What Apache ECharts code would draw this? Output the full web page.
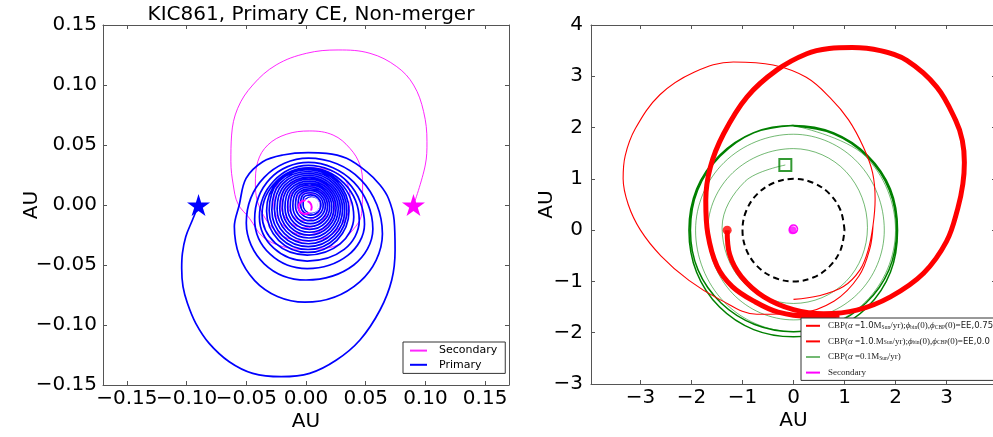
<!DOCTYPE html>
<html><head><meta charset="utf-8">
<script src="https://cdn.jsdelivr.net/npm/echarts@6/dist/echarts.min.js"></script>
<style>html,body{margin:0;padding:0;background:#fff}#c{width:993px;height:437px}</style>
</head><body><div id="c"></div>
<script>
// ---- Left panel: KIC861 common-envelope inspiral (AU) ----
const leftTicks = [-0.15, -0.10, -0.05, 0.00, 0.05, 0.10, 0.15];
const leftTickLabels = ['\u22120.15', '\u22120.10', '\u22120.05', '0.00', '0.05', '0.10', '0.15'];

const primaryStart = [[-0.090, 0.000]];
const secondaryStart = [[0.090, 0.000]];

const primaryOrbit = [
  // outer swing from the starting point
  [-0.090,0.000],[-0.0951,-0.0125],[-0.1007,-0.0264],[-0.1035,-0.0403],[-0.1041,-0.0528],[-0.1030,-0.0681],
  [-0.0993,-0.0819],[-0.0923,-0.0986],[-0.0811,-0.1153],[-0.0643,-0.1306],[-0.0446,-0.1403],[-0.0208,-0.1431],
  [0.0031,-0.1403],[0.0255,-0.1292],[0.0452,-0.1125],[0.0620,-0.0875],[0.0718,-0.0625],[0.0746,-0.0375],
  [0.0738,-0.0125],[0.0690,0.0056],[0.0620,0.0167],[0.0508,0.0278],[0.0340,0.0389],[0.0171,0.0431],[0.0017,0.0436],
  [-0.0194,0.0417],[-0.0362,0.0361],[-0.0502,0.0222],[-0.0559,0.0000],
  // shrinking loops
  [-0.060,-0.018],[-0.043,-0.063],[-0.001,-0.081],[0.045,-0.064],[0.064,-0.024],[0.046,0.021],[0.002,0.039],[-0.035,0.023],
  [-0.050,-0.015],[-0.035,-0.049],[0.000,-0.0625],[0.040,-0.050],[0.056,-0.020],[0.040,0.019],[0.002,0.0355],[-0.030,0.022],
  [-0.043,-0.012],[-0.030,-0.041],[0.001,-0.053],[0.035,-0.042],[0.049,-0.016],[0.035,0.019],[0.002,0.033],[-0.027,0.020],
  [-0.039,-0.010],[-0.027,-0.036],[0.001,-0.0467],[0.032,-0.037],[0.0446,-0.013],[0.032,0.018],[0.002,0.031],[-0.025,0.0196],
  [-0.0368,-0.008],[-0.0257,-0.0318],[0.001,-0.0417],[0.0286,-0.0324],[0.040,-0.010],[0.029,0.0183],[0.002,0.030],[-0.024,0.019],
  // dense core
  [-0.0330,-0.0050],[-0.0229,-0.0294],[0.0015,-0.0395],[0.0259,-0.0294],[0.0360,-0.0050],[0.0259,0.0194],[0.0015,0.0295],[-0.0229,0.0194],
  [-0.0308,-0.0046],[-0.0213,-0.0276],[0.0017,-0.0371],[0.0247,-0.0276],[0.0342,-0.0046],[0.0247,0.0184],[0.0017,0.0279],[-0.0213,0.0184],
  [-0.0286,-0.0042],[-0.0197,-0.0258],[0.0019,-0.0347],[0.0235,-0.0258],[0.0324,-0.0042],[0.0235,0.0174],[0.0019,0.0263],[-0.0197,0.0174],
  [-0.0264,-0.0038],[-0.0180,-0.0239],[0.0021,-0.0323],[0.0222,-0.0239],[0.0306,-0.0038],[0.0222,0.0163],[0.0021,0.0247],[-0.0180,0.0163],
  [-0.0242,-0.0034],[-0.0164,-0.0221],[0.0023,-0.0299],[0.0210,-0.0221],[0.0288,-0.0034],[0.0210,0.0153],[0.0023,0.0231],[-0.0164,0.0153],
  [-0.0220,-0.0030],[-0.0148,-0.0203],[0.0025,-0.0275],[0.0198,-0.0203],[0.0270,-0.0030],[0.0198,0.0143],[0.0025,0.0215],[-0.0148,0.0143],
  [-0.0198,-0.0026],[-0.0132,-0.0185],[0.0027,-0.0251],[0.0186,-0.0185],[0.0252,-0.0026],[0.0186,0.0133],[0.0027,0.0199],[-0.0132,0.0133],
  [-0.0176,-0.0022],[-0.0116,-0.0167],[0.0029,-0.0227],[0.0174,-0.0167],[0.0234,-0.0022],[0.0174,0.0123],[0.0029,0.0183],[-0.0116,0.0123],
  [-0.0154,-0.0018],[-0.0100,-0.0149],[0.0031,-0.0203],[0.0162,-0.0149],[0.0216,-0.0018],[0.0162,0.0113],[0.0031,0.0167],[-0.0100,0.0113],
  [-0.0132,-0.0014],[-0.0084,-0.0131],[0.0033,-0.0179],[0.0150,-0.0131],[0.0198,-0.0014],[0.0150,0.0103],[0.0033,0.0151],[-0.0084,0.0103],
  [-0.0110,-0.0010],[-0.0068,-0.0113],[0.0035,-0.0155],[0.0138,-0.0113],[0.0180,-0.0010],[0.0138,0.0093],[0.0035,0.0135],[-0.0068,0.0093],
  [-0.0088,-0.0006],[-0.0051,-0.0094],[0.0037,-0.0131],[0.0125,-0.0094],[0.0162,-0.0006],[0.0125,0.0082],[0.0037,0.0119],[-0.0051,0.0082],
  [-0.0066,-0.0003],[-0.0035,-0.0077],[0.0039,-0.0108],[0.0113,-0.0077],[0.0144,-0.0003],[0.0113,0.0071],[0.0039,0.0102],[-0.0035,0.0071],
  [-0.0045,0.0000],[-0.0020,-0.0060],[0.0040,-0.0085],[0.0100,-0.0060],[0.0125,0.0000],[0.0100,0.0060],[0.0040,0.0085],[-0.0020,0.0060],
  [-0.0024,0.0000],[-0.0005,-0.0046],[0.0041,-0.0065],[0.0087,-0.0046],[0.0106,0.0000],[0.0087,0.0046],[0.0041,0.0065],[-0.0005,0.0046]
];

const secondaryOrbit = [
  [0.0901,0.0000],[0.0999,0.0333],[0.1013,0.0528],[0.0985,0.0778],[0.0901,0.1000],[0.0760,0.1153],[0.0536,0.1264],
  [0.0269,0.1292],[0.0003,0.1264],[-0.0250,0.1167],[-0.0446,0.1000],[-0.0572,0.0806],[-0.0623,0.0583],[-0.0629,0.0361],
  [-0.0609,0.0167],[-0.0570,0.0010],[-0.0474,-0.0110],[-0.0362,-0.0264],[-0.0194,-0.0347],[-0.0010,-0.0370],
  [0.0230,-0.0347],[0.0368,-0.0236],[0.0466,-0.0070],[0.0474,0.0167],[0.0452,0.0333],[0.0368,0.0472],[0.0227,0.0583],
  [0.0031,0.0617],[-0.0166,0.0589],[-0.0320,0.0500],[-0.0404,0.0361],[-0.0424,0.0167],
  [-0.037,-0.006],[-0.021,-0.025],[0.002,-0.030],[0.026,-0.021],[0.037,0.004],[0.030,0.024],[0.002,0.031],[-0.021,0.021],
  [-0.027,0.000],[-0.018,-0.018],[0.000,-0.025],[0.018,-0.017],[0.024,0.000],[0.017,0.016],[0.000,0.022],[-0.016,0.015],
  [-0.021,0.000],[-0.014,-0.014],[0.000,-0.019],[0.014,-0.013],[0.018,0.000],[0.012,0.012],[0.000,0.016],[-0.011,0.011],
  [-0.015,0.000],[-0.010,-0.010],[0.000,-0.013],[0.009,-0.009],[0.012,0.000],[0.008,0.008],[0.000,0.010],[-0.007,0.007],[-0.009,0.000]
];

// final tight orbits at the centre
const secondaryCore = [[-0.0064,-0.0019],[-0.0048,-0.0059],[-0.0008,-0.0075],[0.0032,-0.0059],[0.0048,-0.0019],[0.0032,0.0021],[-0.0008,0.0037],[-0.0048,0.0021],[-0.0064,-0.0019]];
const primaryCore = [[-0.0008,0.0000],[0.0008,-0.0040],[0.0048,-0.0056],[0.0088,-0.0040],[0.0104,0.0000],[0.0088,0.0040],[0.0048,0.0056],[0.0008,0.0040],[-0.0008,0.0000]];

// ---- Right panel: circumbinary planet orbits (AU) ----
const rightXTicks = [-3, -2, -1, 0, 1, 2, 3];
const rightXTickLabels = ['\u22123', '\u22122', '\u22121', '0', '1', '2', '3'];
const rightYTicks = [-3, -2, -1, 0, 1, 2, 3, 4];
const rightYTickLabels = ['\u22123', '\u22122', '\u22121', '0', '1', '2', '3', '4'];

const unitCircle = [[1,0],[0.924,0.383],[0.707,0.707],[0.383,0.924],[0,1],[-0.383,0.924],[-0.707,0.707],[-0.924,0.383],[-1,0],[-0.924,-0.383],[-0.707,-0.707],[-0.383,-0.924],[0,-1],[0.383,-0.924],[0.707,-0.707],[0.924,-0.383],[1,0]];

const cbpStart = [[-1.30, 0.00]];
const cbpEE075 = [
  [-1.30,0.00],[-1.25,-0.48],[-1.02,-0.91],[-0.58,-1.30],[0.00,-1.55],[0.59,-1.63],[1.24,-1.56],[1.90,-1.30],
  [2.55,-0.84],[3.00,-0.22],[3.22,0.42],[3.32,0.90],[3.35,1.32],[3.31,1.75],[3.18,2.14],[2.81,2.79],[2.22,3.31],
  [1.70,3.50],[1.15,3.56],[0.70,3.54],[0.26,3.44],[-0.33,3.12],[-0.91,2.60],[-1.37,1.88],[-1.63,1.23],[-1.72,0.58],
  [-1.68,-0.07],[-1.50,-0.70],[-1.20,-1.10],[-0.75,-1.40],[-0.30,-1.60],[0.30,-1.68],[0.90,-1.66]
];
const cbpEE00 = [
  [0.00,-1.35],[0.50,-1.28],[0.98,-1.10],[1.30,-0.78],[1.46,-0.40],[1.56,0.10],[1.60,0.60],[1.55,1.12],[1.37,1.62],
  [1.08,2.15],[0.72,2.58],[0.25,2.98],[-0.40,3.22],[-1.18,3.28],[-1.95,3.08],[-2.62,2.64],[-3.10,1.98],[-3.30,1.45],
  [-3.34,1.00],[-3.24,0.50],[-3.00,0.00],[-2.60,-0.50],[-2.05,-0.98],[-1.45,-1.35],[-0.72,-1.64],[0.10,-1.62],
  [0.80,-1.38],[1.28,-0.90],[1.50,-0.35],[1.56,0.10]
];
const cbpSlowStart = [[-0.16, 1.27]];
const cbpSlow = [
  [-0.16,1.27],[-0.95,0.95],[-1.40,0.05],[-1.00,-1.00],[0.00,-1.43],[1.03,-1.00],[1.45,0.05],[1.03,1.14],[0.00,1.59],
  [-1.19,1.12],[-1.68,0.00],[-1.19,-1.24],[0.00,-1.75],[1.26,-1.24],[1.78,0.00],[1.26,1.32],[0.00,1.87],
  [-1.36,1.32],[-1.92,0.00],[-1.36,-1.40],[0.00,-1.98],[1.41,-1.40],[2.00,0.00],[1.41,1.44],[0.00,2.04]
];
const cbpSlowLate = [
  [0.00,2.04],[-0.78,1.90],[-1.45,1.46],[-1.90,0.80],[-2.05,0.00],[-1.90,-0.82],[-1.45,-1.50],[-0.78,-1.94],
  [0.00,-2.08],[0.78,-1.94],[1.45,-1.50],[1.90,-0.82],[2.04,0.00],[1.90,0.80],[1.45,1.46],[0.78,1.90],[0.00,2.04],
  [-0.78,1.90],[-1.44,1.44],[-1.88,0.78],[-2.02,0.00],[-1.87,-0.78],[-1.42,-1.42],[-0.76,-1.84],[0.00,-1.98],
  [0.76,-1.84],[1.42,-1.42],[1.87,-0.78],[2.02,0.00],[1.88,0.78],[1.44,1.44],[0.78,1.88],[0.00,2.03]
];
const binaryRing = [[0.08,0.02],[0.057,0.077],[0,0.10],[-0.057,0.077],[-0.08,0.02],[-0.057,-0.037],[0,-0.06],[0.057,-0.037],[0.08,0.02]];
const binaryDot = [[-0.02, 0.00]];

const starPath = 'path://M50,0 L61,35 L98,35 L68,57 L79,91 L50,70 L21,91 L32,57 L2,35 L39,35 Z';
const frame = '#555';
const tickFont = { fontFamily: 'DejaVu Sans', fontSize: 20, color: '#000' };
const SMOOTH = 0.37;

function labelFor(ticks, labels) {
  return v => labels[ticks.findIndex(t => Math.abs(t - v) < 1e-9)];
}

function axis(grid, pos, min, max, ticks, labels, margin) {
  const a = {
    type: 'value', gridIndex: grid, position: pos, min: min, max: max,
    axisLine: { show: true, onZero: false, lineStyle: { color: frame, width: 1 } },
    axisTick: { show: true, inside: true, length: 4, customValues: ticks, lineStyle: { color: frame } },
    splitLine: { show: false },
    axisLabel: { show: false }
  };
  if (labels) {
    a.axisLabel = Object.assign({ show: true, margin: margin || 4, customValues: ticks, hideOverlap: false,
      showMinLabel: true, showMaxLabel: true, formatter: labelFor(ticks, labels) }, tickFont);
  }
  return a;
}

// bottom labels of the left panel sit close together; they are shared between two axes
const leftLabelsA = leftTicks.filter((t, i) => i % 2 === 0);
const leftLabelsB = leftTicks.filter((t, i) => i % 2 === 1);
function labelOnlyAxis(ticks) {
  return {
    type: 'value', gridIndex: 0, position: 'bottom', offset: 0, min: -0.17, max: 0.17,
    axisLine: { show: false }, axisTick: { show: false }, splitLine: { show: false },
    axisLabel: Object.assign({ show: true, margin: 4, customValues: ticks, hideOverlap: false,
      showMinLabel: true, showMaxLabel: true, formatter: labelFor(leftTicks, leftTickLabels) }, tickFont)
  };
}

const names = {
  fast075: 'cbp-fast-075', fast00: 'cbp-fast-00', slow: 'cbp-slow', sec2: 'Secondary (binary)'
};
const richLegend = {};
richLegend[names.fast075] = '{m|CBP(}{g|\u03b1}{m| =}{s|1.0}{m|M}{b|Sun}{m|/yr);}{g|\u03d5}{b|bin}{m|(0),}{g|\u03d5}{b|CBP}{m|(0)=}{s|EE,0.75}';
richLegend[names.fast00] = '{m|CBP(}{g|\u03b1}{m| =}{s|1.0}{m|.M}{b|Sun}{m|/yr);}{g|\u03d5}{b|bin}{m|(0),}{g|\u03d5}{b|CBP}{m|(0)=}{s|EE,0.0}';
richLegend[names.slow] = '{m|CBP(}{g|\u03b1}{m| =0.1M}{b|Sun}{m|/yr)}';
richLegend[names.sec2] = '{m|Secondary}';

const nameCommon = { nameLocation: 'middle', nameMoveOverlap: false, nameTextStyle: tickFont, name: 'AU' };

const option = {
  animation: false,
  backgroundColor: '#fff',
  title: {
    text: 'KIC861, Primary CE, Non-merger', left: 306, top: 0, textAlign: 'center',
    textStyle: { fontFamily: 'DejaVu Sans', fontSize: 20, fontWeight: 'normal', color: '#000' }
  },
  grid: [
    { left: 103, top: 25, width: 406, height: 360, outerBoundsMode: 'none' },
    { left: 591, top: 25, width: 405, height: 359, outerBoundsMode: 'none' }
  ],
  xAxis: [
    Object.assign(axis(0, 'bottom', -0.17, 0.17, leftTicks, null), nameCommon, { nameGap: 27 }),
    axis(0, 'top', -0.17, 0.17, leftTicks, null),
    Object.assign(axis(1, 'bottom', -3.97, 3.97, rightXTicks, rightXTickLabels), nameCommon, { nameGap: 27 }),
    axis(1, 'top', -3.97, 3.97, rightXTicks, null),
    labelOnlyAxis(leftLabelsA),
    labelOnlyAxis(leftLabelsB)
  ],
  yAxis: [
    Object.assign(axis(0, 'left', -0.15, 0.15, leftTicks, leftTickLabels, 6), nameCommon, { nameGap: 61 }),
    axis(0, 'right', -0.15, 0.15, leftTicks, null),
    Object.assign(axis(1, 'left', -3, 4, rightYTicks, rightYTickLabels, 8), nameCommon, { nameGap: 34 }),
    axis(1, 'right', -3, 4, rightYTicks, null)
  ],
  legend: [
    {
      data: ['Secondary', 'Primary'], orient: 'vertical', left: 403, top: 342,
      itemWidth: 17, itemHeight: 14, itemGap: 3, padding: [3, 8, 3, 6],
      borderColor: '#333', borderWidth: 1, borderRadius: 0, backgroundColor: '#fff',
      itemStyle: { opacity: 0 },
      textStyle: { fontFamily: 'DejaVu Sans', fontSize: 11, color: '#000', padding: [0, 0, 0, 7] }
    },
    {
      data: [names.fast075, names.fast00, names.slow, names.sec2], orient: 'vertical', left: 801, top: 318,
      itemWidth: 14, itemHeight: 12, itemGap: 6, padding: [3, 8, 3, 4],
      borderColor: '#333', borderWidth: 1, borderRadius: 0, backgroundColor: '#fff',
      itemStyle: { opacity: 0 },
      formatter: n => richLegend[n],
      textStyle: {
        padding: [0, 0, 0, 3],
        rich: {
          m: { fontFamily: 'Liberation Serif', fontSize: 9, color: '#222' },
          g: { fontFamily: 'Liberation Serif', fontStyle: 'italic', fontSize: 9, color: '#222' },
          s: { fontFamily: 'DejaVu Sans', fontSize: 8.5, color: '#222' },
          b: { fontFamily: 'Liberation Serif', fontSize: 5.5, color: '#222', verticalAlign: 'bottom' }
        }
      }
    }
  ],
  series: [
    { name: 'Secondary', type: 'line', xAxisIndex: 0, yAxisIndex: 0, data: secondaryOrbit, smooth: SMOOTH,
      symbol: 'none', lineStyle: { color: '#ff00ff', width: 1, opacity: 0.85 }, itemStyle: { color: '#ff00ff' } },
    { name: 'Primary', type: 'line', xAxisIndex: 0, yAxisIndex: 0, data: primaryOrbit, smooth: SMOOTH,
      symbol: 'none', lineStyle: { color: '#0000ff', width: 1.7 }, itemStyle: { color: '#0000ff' } },
    { type: 'line', xAxisIndex: 0, yAxisIndex: 0, data: secondaryCore, smooth: SMOOTH, symbol: 'none',
      lineStyle: { color: '#ff00ff', width: 2 } },
    { type: 'line', xAxisIndex: 0, yAxisIndex: 0, data: primaryCore, smooth: SMOOTH, symbol: 'none',
      lineStyle: { color: '#ffffff', width: 2 } },
    { type: 'scatter', xAxisIndex: 0, yAxisIndex: 0, data: primaryStart, symbol: starPath, symbolSize: [23, 22],
      itemStyle: { color: '#0000ff', opacity: 1 }, z: 5 },
    { type: 'scatter', xAxisIndex: 0, yAxisIndex: 0, data: secondaryStart, symbol: starPath, symbolSize: [23, 22],
      itemStyle: { color: '#ff00ff', opacity: 1 }, z: 5 },

    { type: 'line', xAxisIndex: 2, yAxisIndex: 2, data: unitCircle, smooth: SMOOTH, symbol: 'none',
      lineStyle: { color: '#000', width: 2, type: [6, 4] } },
    { name: names.slow, type: 'line', xAxisIndex: 2, yAxisIndex: 2, data: cbpSlow, smooth: SMOOTH, symbol: 'none',
      lineStyle: { color: '#008000', width: 1, opacity: 0.55 }, itemStyle: { color: '#008000' } },
    { type: 'line', xAxisIndex: 2, yAxisIndex: 2, data: cbpSlowLate, smooth: SMOOTH, symbol: 'none',
      lineStyle: { color: '#008000', width: 1.5 } },
    { type: 'scatter', xAxisIndex: 2, yAxisIndex: 2, data: cbpSlowStart, symbol: 'rect', symbolSize: 12,
      itemStyle: { color: 'rgba(0,0,0,0)', borderColor: '#008000', borderWidth: 2 }, z: 5 },
    { name: names.fast00, type: 'line', xAxisIndex: 2, yAxisIndex: 2, data: cbpEE00, smooth: SMOOTH, symbol: 'none',
      lineStyle: { color: '#ff0000', width: 1.1 }, itemStyle: { color: '#ff0000' } },
    { name: names.fast075, type: 'line', xAxisIndex: 2, yAxisIndex: 2, data: cbpEE075, smooth: SMOOTH, symbol: 'none',
      lineStyle: { color: '#ff0000', width: 5 }, itemStyle: { color: '#ff0000' } },
    { type: 'scatter', xAxisIndex: 2, yAxisIndex: 2, data: cbpStart, symbol: 'circle', symbolSize: 9,
      itemStyle: { color: '#ff0000' }, z: 5 },
    { name: names.sec2, type: 'line', xAxisIndex: 2, yAxisIndex: 2, data: binaryRing, smooth: SMOOTH, symbol: 'none',
      lineStyle: { color: '#ff00ff', width: 1.5 }, itemStyle: { color: '#ff00ff' } },
    { type: 'scatter', xAxisIndex: 2, yAxisIndex: 2, data: binaryDot, symbol: 'circle', symbolSize: 8,
      itemStyle: { color: '#ff00ff' }, z: 5 }
  ]
};

const chart = echarts.init(document.getElementById('c'), null, { renderer: 'canvas' });
chart.setOption(option);
</script></body></html>
